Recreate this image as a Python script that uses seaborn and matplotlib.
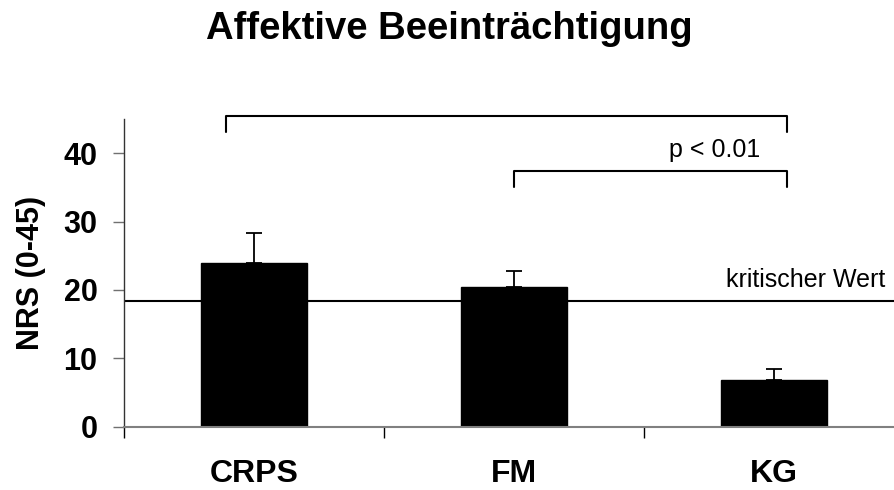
import matplotlib
matplotlib.use("Agg")
import matplotlib.pyplot as plt
import seaborn as sns
import pandas as pd

# Mean NRS scores per group and the upper error (SEM)
groups = ["CRPS", "FM", "KG"]
means = [24.0, 20.4, 6.8]
errors = [4.3, 2.4, 1.7]
critical_value = 18.4
y_ticks = [0, 10, 20, 30, 40]

sns.set_theme(style="white")
plt.rcParams["font.family"] = ["Liberation Sans", "DejaVu Sans"]
plt.rcParams["text.color"] = "black"
plt.rcParams["axes.labelcolor"] = "black"
plt.rcParams["xtick.labelcolor"] = "black"
plt.rcParams["ytick.labelcolor"] = "black"

df = pd.DataFrame({"Gruppe": groups, "NRS": means})

fig = plt.figure(figsize=(8.94, 4.90), dpi=100)
ax = fig.add_axes([124 / 894, 63.3 / 490, (894 - 124) / 894, 307.7 / 490])

# reference line for the critical value, drawn beneath the bars
ax.axhline(critical_value, color="black", lw=1.5, zorder=1)

sns.barplot(data=df, x="Gruppe", y="NRS", color="black", width=0.41,
            saturation=1, ax=ax, zorder=2)
for p in ax.patches:
    p.set_edgecolor("black")

ax.errorbar(range(len(groups)), means, yerr=[[0] * len(groups), errors],
            fmt="none", ecolor="black", elinewidth=1.3, capsize=6,
            capthick=1.3, zorder=3)

ax.set_xlim(-0.5, 2.4615)
ax.set_ylim(0, 45)
ax.set_yticks(y_ticks)
ax.set_yticklabels([str(v) for v in y_ticks], fontsize=22, fontweight="bold",
                   color="black")
ax.set_xticks(range(len(groups)))
ax.set_xticklabels(groups, fontsize=23, fontweight="bold", color="black")
ax.set_xticks([-0.5, 0.5, 1.5], minor=True)
ax.tick_params(axis="x", which="major", length=0, pad=23.5)
ax.tick_params(axis="x", which="minor", length=8, width=1, color="black",
               direction="out", bottom=True)
ax.tick_params(axis="y", length=8, width=1, color="#707070", direction="out",
               left=True, pad=11)
ax.set_xlabel("")
ax.set_ylabel("NRS (0-45)", fontsize=22, fontweight="bold", labelpad=13,
              color="black")

for side in ["top", "right"]:
    ax.spines[side].set_visible(False)
ax.spines["left"].set_color("#333333")
ax.spines["left"].set_linewidth(1)
ax.spines["bottom"].set_color("#808080")
ax.spines["bottom"].set_linewidth(1.5)

ax.text(2.427, 20.4, "kritischer Wert", fontsize=18, ha="right",
        va="baseline", color="black")

# significance brackets
def bracket(x0, x1, y, drop):
    ax.plot([x0, x0, x1, x1], [y - drop, y, y, y - drop], color="black",
            lw=1.5, clip_on=False, zorder=4)

bracket(-0.109, 2.049, 45.5, 2.4)
bracket(1.0, 2.049, 37.4, 2.4)
ax.text(1.773, 39.4, "p < 0.01", fontsize=18, ha="center", va="baseline",
        color="black")

fig.text(0.503, 1 - 11 / 490, "Affektive Beeinträchtigung", fontsize=27.5,
         fontweight="bold", ha="center", va="top", color="black")

fig.savefig("out.png", dpi=100, facecolor="white")
